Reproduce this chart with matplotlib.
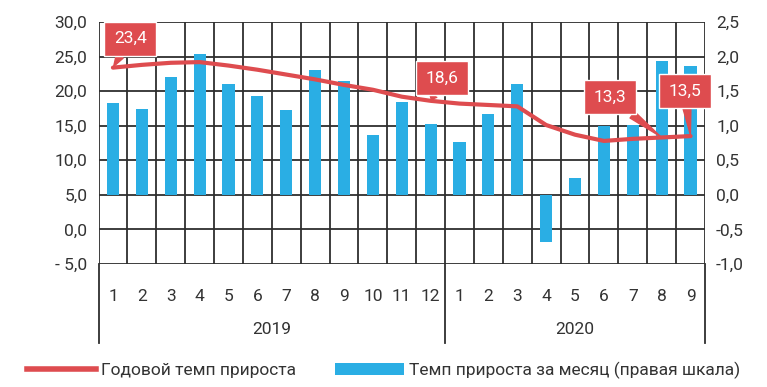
import matplotlib.pyplot as plt
from matplotlib.ticker import FixedLocator, FuncFormatter
import matplotlib.transforms as mtransforms

plt.rcParams['font.family'] = ['Roboto', 'DejaVu Sans']

# months 2019 (1-12) and 2020 (1-9)
months = [str(m) for m in range(1, 13)] + [str(m) for m in range(1, 10)]
years = ['2019', '2020']
year_len = [12, 9]

# monthly growth, % (right axis)
monthly = [1.33, 1.24, 1.71, 2.03, 1.61, 1.43, 1.23, 1.81, 1.64, 0.86, 1.35, 1.03,
           0.77, 1.17, 1.61, -0.68, 0.24, 0.99, 1.01, 1.93, 1.86]
# annual growth, % (left axis)
annual = [23.4, 23.8, 24.1, 24.2, 23.7, 23.1, 22.4, 21.7, 20.9, 20.2, 19.2, 18.6,
          18.2, 18.0, 17.8, 15.1, 13.7, 12.8, 13.1, 13.3, 13.5]
# labelled points: index, text
labels = [(0, '23,4'), (11, '18,6'), (19, '13,3'), (20, '13,5')]

RED = '#de4c4f'
BLUE = '#2aaee4'
GRID = '#2e2e2e'
TXT = '#333333'

fig = plt.figure(figsize=(7.67, 3.87), dpi=100)
ax = fig.add_axes([98.5 / 767, 1 - 264 / 387, (705 - 98.5) / 767, (264 - 22) / 387])
ax2 = ax.twinx()
ax3 = ax.twinx()

x = list(range(len(months)))

# grid on the base axes
ax.set_xlim(-0.5, len(months) - 0.5)
ax.set_ylim(-5, 30)
ax.set_yticks([-5, 0, 5, 10, 15, 20, 25, 30])
ax.yaxis.set_major_formatter(FuncFormatter(lambda v, p: ('%.1f' % v).replace('.', ',').replace('-', '- ')))
ax.set_xticks(x)
ax.set_xticklabels(months)
ax.xaxis.set_minor_locator(FixedLocator([i - 0.5 for i in range(len(months) + 1)]))
ax.grid(True, which='minor', axis='x', color=GRID, lw=1.3)
ax.grid(True, which='major', axis='y', color=GRID, lw=1.3)
ax.tick_params(axis='x', which='both', length=0, pad=18, labelsize=12.5, labelcolor=TXT)
ax.tick_params(axis='y', length=0, pad=8, labelsize=12.5, labelcolor=TXT)
for s in ax.spines.values():
    s.set_visible(False)

# bars on the right scale
ax2.bar(x, monthly, width=0.42, color=BLUE, zorder=2)
ax2.set_ylim(-1, 2.5)
ax2.set_yticks([-1, -0.5, 0, 0.5, 1, 1.5, 2, 2.5])
ax2.yaxis.set_major_formatter(FuncFormatter(lambda v, p: ('%.1f' % v).replace('.', ',')))
ax2.tick_params(axis='y', length=0, pad=8, labelsize=12.5, labelcolor=TXT)
for s in ax2.spines.values():
    s.set_visible(False)

# annual line on top
ax3.set_ylim(-5, 30)
ax3.set_yticks([])
for s in ax3.spines.values():
    s.set_visible(False)
ax3.plot(x, annual, color=RED, lw=3, solid_capstyle='round', zorder=3)

label_pos = {0: (0.6, 27.6), 11: (11.4, 21.9), 19: (17.2, 19.1), 20: (19.8, 20.0)}
for i, t in labels:
    ax3.annotate(t, xy=(x[i], annual[i]), xytext=label_pos[i], textcoords='data',
                 ha='center', va='center', color='white', fontsize=12.5,
                 bbox=dict(boxstyle='square,pad=0.55', fc=RED, ec='white', lw=1),
                 arrowprops=dict(arrowstyle='wedge,tail_width=0.45,shrink_factor=0.5',
                                 fc=RED, ec=RED, shrinkA=0, shrinkB=1),
                 annotation_clip=False, zorder=5)

# separators and year labels below the plot
trans = mtransforms.blended_transform_factory(ax.transData, fig.transFigure)
bottom = 1 - 343 / 387
top = 1 - 264 / 387
edges = [-0.5]
for n in year_len:
    edges.append(edges[-1] + n)
for e in edges:
    ax.plot([e, e], [bottom, top], transform=trans, color=GRID, lw=1.3, clip_on=False)
for k, yr in enumerate(years):
    ax.text((edges[k] + edges[k + 1]) / 2, 1 - 330 / 387, yr, transform=trans,
            ha='center', va='center', fontsize=12.5, color=TXT)

# legend
h1, = ax.plot([], [], color=RED, lw=4)
h2 = ax.bar([0], [0], color=BLUE)
fig.legend([h1, h2], ['Годовой темп прироста', 'Темп прироста за месяц (правая шкала)'],
           loc='center', bbox_to_anchor=(0.5, 1 - 370 / 387), ncol=2, frameon=False,
           fontsize=12.5, handlelength=4, handletextpad=0.3, columnspacing=2.2,
           labelcolor=TXT)

fig.savefig('out.png', dpi=100)
